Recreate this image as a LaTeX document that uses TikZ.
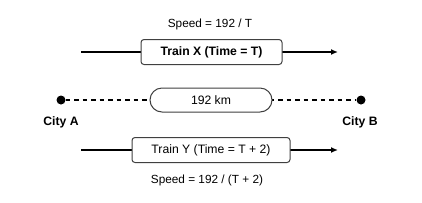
\documentclass[tikz,border=0pt]{standalone}
\usepackage{fontspec}
\setmainfont{Liberation Sans}
\usetikzlibrary{arrows.meta}
\begin{document}
\begin{tikzpicture}[x=1pt,y=-1pt,
  lbl/.style={font=\fontsize{11.8}{13}\selectfont, inner sep=0pt},
  trainbox/.style={draw=black!75, line width=1pt, rounded corners=3pt, fill=white, minimum height=25pt, inner sep=0pt, font=\fontsize{12.2}{14}\selectfont},
  pill/.style={draw=black!75, line width=1pt, rounded corners=12pt, fill=white, minimum height=24pt, minimum width=122pt, inner sep=0pt, font=\fontsize{12.2}{14}\selectfont},
  track/.style={line width=1.6pt, -{Latex[length=7pt,width=6pt]}},
  city/.style={circle, fill=black, inner sep=0pt, minimum size=9pt},
  citylbl/.style={font=\bfseries\fontsize{12.2}{14}\selectfont, inner sep=0pt}]
\useasboundingbox (0,0) rectangle (422,202);
% Train X
\node[lbl] (spx) at (210,24) {Speed = 192 / T};
\coordinate (xs) at (81,52);
\coordinate (xe) at (338,52);
\draw[track] (xs) -- (xe);
\node[trainbox, minimum width=141pt, font=\bfseries\fontsize{12.2}{14}\selectfont] (tx) at (211.5,52) {Train X (Time = T)};
% Cities
\node[city] (a) at (61,100) {};
\node[city] (b) at (361,100) {};
\draw[line width=1.1pt, dash pattern=on 4.5pt off 4pt] (a) -- (b);
\node[pill] (d) at (211,100) {192 km};
\node[citylbl] (ca) at (61,122) {City A};
\node[citylbl] (cb) at (360,122) {City B};
% Train Y
\coordinate (ys) at (81,150);
\coordinate (ye) at (338,150);
\draw[track] (ys) -- (ye);
\node[trainbox, minimum width=158pt] (ty) at (211,150) {Train Y (Time = T + 2)};
\node[lbl] (spy) at (207,180) {Speed = 192 / (T + 2)};
\end{tikzpicture}
\end{document}
